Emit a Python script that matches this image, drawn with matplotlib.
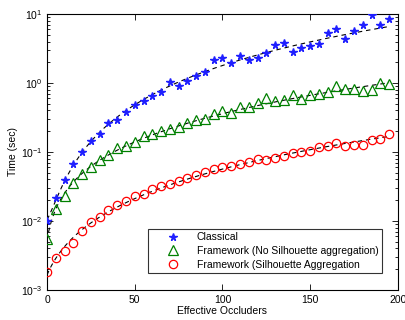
import numpy as np
import matplotlib
matplotlib.use("Agg")
import matplotlib.pyplot as plt

plt.rcParams['font.family'] = ['Liberation Sans', 'DejaVu Sans']
plt.rcParams['mathtext.fontset'] = 'custom'
plt.rcParams['mathtext.rm'] = 'Liberation Sans'

occluders = list(range(0, 200, 5))

classical = [0.010, 0.0218, 0.039, 0.066, 0.100, 0.145, 0.18, 0.26, 0.29, 0.38,
             0.48, 0.55, 0.64, 0.75, 1.02, 0.91, 1.07, 1.25, 1.44, 2.15,
             2.28, 1.95, 2.44, 2.13, 2.33, 2.75, 3.6, 3.76, 2.79, 3.2,
             3.47, 3.67, 5.36, 6.0, 4.39, 5.73, 6.9, 9.7, 6.9, 8.5]

framework_no_agg = [0.0054, 0.0148, 0.0233, 0.035, 0.048, 0.060, 0.076, 0.090, 0.113, 0.123,
                    0.140, 0.169, 0.182, 0.202, 0.214, 0.233, 0.26, 0.29, 0.304, 0.356,
                    0.397, 0.364, 0.449, 0.445, 0.508, 0.60, 0.543, 0.565, 0.66, 0.59,
                    0.66, 0.70, 0.73, 0.90, 0.81, 0.82, 0.76, 0.78, 1.0, 0.97]

framework_agg = [0.00184, 0.0029, 0.0037, 0.00486, 0.0072, 0.0095, 0.0113, 0.0144, 0.0169, 0.0197,
                 0.023, 0.0249, 0.0288, 0.0323, 0.0346, 0.0375, 0.0416, 0.0466, 0.051, 0.0573,
                 0.0612, 0.0627, 0.0677, 0.0717, 0.0784, 0.0758, 0.0827, 0.0885, 0.0955, 0.101,
                 0.103, 0.117, 0.123, 0.134, 0.121, 0.128, 0.126, 0.148, 0.156, 0.182]

labels = ['Classical', 'Framework (No Silhouette aggregation)', 'Framework (Silhouette Aggregation']

fig = plt.figure(figsize=(4.06, 3.2), dpi=100)
ax = fig.add_axes([0.1158, 0.094, 0.8642, 0.862])

x = np.array(occluders, dtype=float)
xf = np.linspace(0, 195, 200)
for ys in (classical, framework_no_agg, framework_agg):
    yv = np.array(ys)
    coef = np.polyfit(x, yv, 2, w=1.0 / yv)
    ax.plot(xf, np.polyval(coef, xf), color='black', lw=0.8, dashes=(4, 3.5), zorder=1)

ax.plot(occluders, classical, linestyle='none', marker='*', ms=5.5, color='#1f1fff',
        markeredgecolor='#1f1fff', label=labels[0], zorder=3)
ax.plot(occluders, framework_no_agg, linestyle='none', marker='^', ms=6.5, mfc='none',
        mec='#008000', mew=0.9, label=labels[1], zorder=3)
ax.plot(occluders, framework_agg, linestyle='none', marker='o', ms=6, mfc='none',
        mec='#ff0000', mew=0.9, label=labels[2], zorder=3)

ax.set_yscale('log')
ax.set_xlim(0, 200)
ax.set_ylim(1e-3, 1e1)
ax.set_xticks([0, 50, 100, 150, 200])
ax.set_yticks([1e-3, 1e-2, 1e-1, 1e0, 1e1])
ax.tick_params(which='both', direction='in', top=True, right=True, labelsize=7.5, width=0.6)
ax.tick_params(which='major', length=4)
ax.tick_params(which='minor', length=2)
for s in ax.spines.values():
    s.set_linewidth(0.8)
ax.set_xlabel('Effective Occluders', fontsize=7.5, labelpad=1)
ax.set_ylabel('Time (sec)', fontsize=7.5, labelpad=2)

leg = ax.legend(loc='lower right', bbox_to_anchor=(0.955, 0.06), fontsize=7.5, frameon=True,
                fancybox=False, edgecolor='black', handlelength=4.0, handletextpad=0.3,
                borderpad=0.35, labelspacing=0.35, borderaxespad=0.0)
leg.get_frame().set_linewidth(0.8)

fig.savefig('out.png', dpi=100)
